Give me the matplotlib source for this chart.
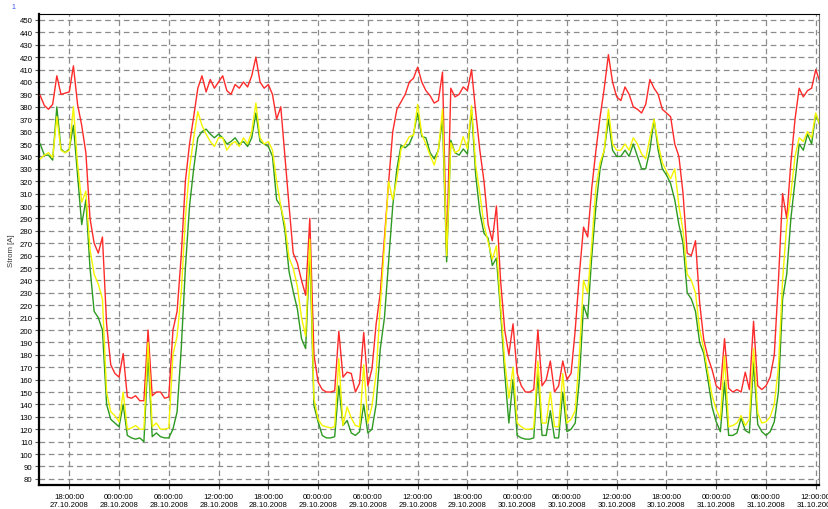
import matplotlib
matplotlib.use("Agg")
import matplotlib.pyplot as plt
import matplotlib.dates as mdates
import pandas as pd

# half-hourly readings, 27.10.2008 14:30 -> 31.10.2008 12:30
start = "2008-10-27 14:30"

red = [
    389, 381, 378, 382, 405, 390, 391,
    392, 413, 382, 365, 343, 290, 270, 262, 275, 205, 172, 165,
    162, 181, 146, 145, 147, 143, 143, 200, 147, 150, 150, 145,
    146, 200, 215, 260, 320, 350, 372, 395, 405, 392, 402, 395,
    400, 405, 393, 390, 398, 395, 400, 396, 405, 420, 400, 395,
    398, 390, 370, 380, 340, 300, 262, 254, 240, 228, 290, 180,
    158, 152, 150, 150, 151, 199, 162, 166, 165, 150, 157, 198,
    155, 169, 205, 230, 275, 319, 360, 378, 384, 390, 400, 403,
    412, 400, 393, 389, 383, 385, 408, 262, 395, 388, 390, 396,
    393, 410, 376, 345, 320, 285, 272, 300, 240, 200, 180, 205,
    165, 155, 150, 150, 152, 200, 155, 160, 175, 150, 155, 175,
    160, 165, 200, 245, 283, 275, 315, 345, 372, 395, 422, 400,
    388, 385, 396, 390, 380, 378, 375, 382, 402, 395, 390, 378,
    375, 372, 350, 340, 310, 262, 260, 272, 222, 192, 178, 168,
    155, 152, 193, 153, 150, 152, 150, 166, 152, 207, 155, 152,
    155, 162, 180, 240, 310, 290, 335, 370, 395, 388, 393, 395,
    410, 400,
]

yellow = [
    338, 341, 343, 339, 372, 345, 343,
    345, 380, 334, 303, 312, 265, 245, 237, 225, 150, 134, 131,
    126, 150, 120, 121, 123, 120, 120, 190, 122, 125, 120, 120,
    121, 180, 195, 230, 290, 330, 355, 376, 365, 358, 352, 348,
    355, 355, 345, 350, 352, 348, 355, 350, 360, 383, 355, 350,
    352, 345, 320, 300, 285, 258, 250, 235, 210, 195, 273, 145,
    128, 123, 122, 121, 122, 177, 123, 138, 129, 123, 122, 172,
    125, 139, 165, 220, 268, 320, 305, 322, 346, 350, 356, 357,
    382, 358, 350, 341, 333, 345, 378, 260, 351, 343, 345, 356,
    346, 381, 333, 310, 285, 271, 257, 268, 220, 175, 145, 170,
    125, 122, 120, 120, 121, 175, 125, 125, 150, 122, 122, 165,
    125, 128, 135, 180, 240, 230, 270, 315, 335, 345, 378, 350,
    345, 345, 350, 345, 355, 350, 342, 338, 355, 370, 350, 335,
    328, 322, 330, 300, 280, 245, 240, 230, 200, 185, 166, 147,
    136, 128, 179, 122, 123, 125, 131, 123, 128, 185, 133, 125,
    126, 130, 140, 170, 240, 285, 310, 340, 355, 352, 360, 355,
    375, 365,
]

green = [
    350, 341, 341, 337, 380, 346, 343,
    346, 365, 325, 285, 305, 250, 215, 210, 200, 140, 128, 125,
    122, 140, 115, 113, 112, 113, 110, 180, 114, 117, 114, 113,
    113, 120, 134, 185, 250, 300, 330, 355, 360, 362, 358, 355,
    358, 355, 350, 352, 355, 350, 352, 348, 355, 375, 352, 350,
    348, 340, 305, 300, 280, 247, 231, 217, 193, 185, 265, 139,
    126, 115, 113, 113, 114, 155, 123, 127, 117, 115, 118, 140,
    117, 120, 140, 185, 210, 255, 300, 330, 349, 347, 350, 358,
    375, 356, 355, 343, 338, 345, 370, 255, 353, 343, 341, 346,
    342, 378, 325, 295, 278, 274, 252, 258, 215, 165, 125, 160,
    115, 113, 112, 112, 113, 165, 115, 115, 135, 113, 113, 150,
    118, 120, 125, 160, 220, 210, 260, 300, 330, 345, 370, 345,
    340, 340, 345, 340, 350, 340, 330, 330, 345, 370, 345, 330,
    325, 318, 305, 285, 270, 230, 225, 215, 190, 181, 160, 138,
    126, 118, 158, 115, 115, 117, 129, 119, 117, 174, 124, 118,
    115, 118, 126, 150, 225, 245, 290, 320, 350, 345, 358, 350,
    374, 365,
]

times = pd.date_range(start, periods=len(red), freq="30min")

plt.rcParams["font.family"] = ["Liberation Sans", "DejaVu Sans"]

fig = plt.figure(figsize=(8.29, 5.10), dpi=100)
ax = fig.add_axes([0.0467, 0.047, 0.941, 0.924])

ax.plot(times, red, color="#ff2a2a", lw=1.0, zorder=3)
ax.plot(times, green, color="#2e9a22", lw=1.0, zorder=4)
ax.plot(times, yellow, color="#f5f500", lw=1.0, zorder=5)

ax.set_xlim(pd.Timestamp("2008-10-27 14:19"), pd.Timestamp("2008-10-31 12:22"))
ax.set_ylim(75, 455)
ax.set_yticks(range(80, 451, 10))

ax.xaxis.set_major_locator(mdates.HourLocator(byhour=[0, 6, 12, 18]))
ax.xaxis.set_major_formatter(mdates.DateFormatter("%H:%M:%S\n%d.%m.%Y"))

ax.grid(True, color="#8c8c8c", linestyle=(0, (4.5, 3)), lw=0.9, zorder=1)
ax.tick_params(axis="both", labelsize=5.6, length=3, width=0.8, color="#555555", pad=1.5)
ax.tick_params(axis="x", pad=3)

for side in ("left", "bottom"):
    ax.spines[side].set_linewidth(1.6)
ax.spines["top"].set_linewidth(0.8)
ax.spines["right"].set_linewidth(0.8)
ax.spines["right"].set_color("#777777")

ax.set_ylabel("Strom [A]", fontsize=5.6, color="#333333", labelpad=3)
fig.text(0.014, 0.986, "1", color="#3050ff", fontsize=5, va="center")

fig.savefig("out.png", dpi=100)
